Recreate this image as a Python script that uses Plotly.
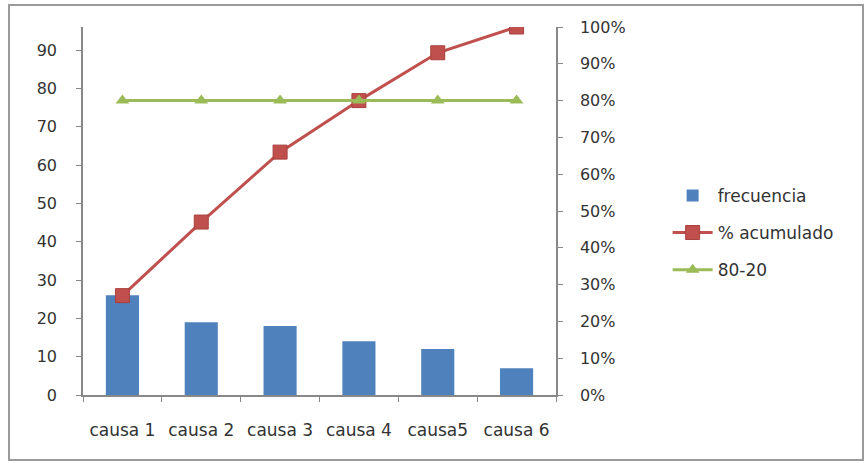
import plotly.graph_objects as go

categorias = ["causa 1", "causa 2", "causa 3", "causa 4", "causa5", "causa 6"]
frecuencia = [26, 19, 18, 14, 12, 7]
acumulado = [0.27, 0.47, 0.66, 0.80, 0.93, 1.00]
ochenta_veinte = [0.80, 0.80, 0.80, 0.80, 0.80, 0.80]
ticks_izq = [0, 10, 20, 30, 40, 50, 60, 70, 80, 90]
ticks_der = [0, 0.1, 0.2, 0.3, 0.4, 0.5, 0.6, 0.7, 0.8, 0.9, 1.0]

FONT = "DejaVu Sans"
TXT = "#333333"
AX = "#888888"

fig = go.Figure()
fig.add_trace(go.Bar(x=categorias, y=frecuencia, name="frecuencia", legendgroup="a",
                     marker=dict(color="#4F81BD", line=dict(width=0)), yaxis="y"))
fig.add_trace(go.Scatter(x=categorias, y=acumulado, name="% acumulado", yaxis="y2",
                         legendgroup="b", mode="lines+markers",
                         line=dict(color="#C0504D", width=3),
                         marker=dict(symbol="square", size=14, color="#C0504D",
                                     line=dict(color="#A9403D", width=1))))
fig.add_trace(go.Scatter(x=categorias, y=ochenta_veinte, name="80-20", yaxis="y2",
                         legendgroup="c", mode="lines+markers",
                         line=dict(color="#9BBB59", width=3),
                         marker=dict(symbol="triangle-up", size=12, color="#9BBB59")))

fig.update_layout(
    width=866, height=463,
    margin=dict(l=83, r=310, t=27, b=68),
    paper_bgcolor="white", plot_bgcolor="white",
    font=dict(family=FONT, size=16, color=TXT),
    bargap=0.58,
    showlegend=True,
    legend=dict(x=1.236, y=0.59, xanchor="left", yanchor="top",
                font=dict(family=FONT, size=17, color=TXT),
                bgcolor="rgba(0,0,0,0)", tracegroupgap=12, itemwidth=40),
    xaxis=dict(showline=True, linecolor=AX, linewidth=1.5, ticks="outside",
               tickson="boundaries", ticklen=5, tickcolor=AX, showgrid=False,
               ticklabelstandoff=19,
               tickfont=dict(family=FONT, size=17, color=TXT)),
    yaxis=dict(range=[0, 96], tickvals=ticks_izq, showline=True, linecolor=AX,
               linewidth=1.5, ticks="outside", ticklen=5, tickcolor=AX,
               showgrid=False, zeroline=False, ticklabelstandoff=16,
               tickfont=dict(family=FONT, size=16, color=TXT)),
    yaxis2=dict(range=[0, 1], tickvals=ticks_der, tickformat=".0%", overlaying="y",
                side="right", showline=True, linecolor=AX, linewidth=1.5,
                ticks="outside", ticklen=5, tickcolor=AX, showgrid=False,
                zeroline=False, ticklabelstandoff=14,
                tickfont=dict(family=FONT, size=16, color=TXT)),
    shapes=[dict(type="rect", xref="paper", yref="paper",
                 x0=-0.1564, x1=1.649, y0=-0.1766, y1=1.0598,
                 line=dict(color="#9a9a9a", width=2), fillcolor="rgba(0,0,0,0)",
                 layer="below")],
)

fig.write_html("out.html")
